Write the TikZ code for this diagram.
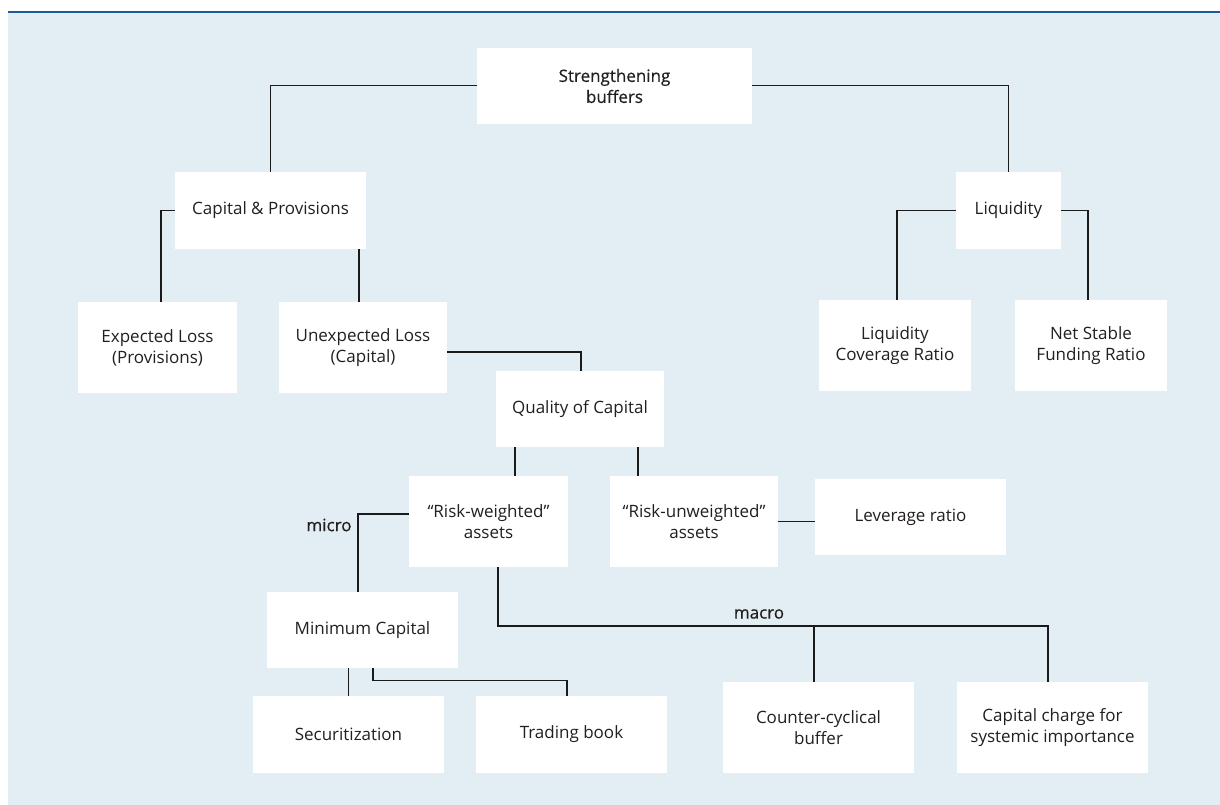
\documentclass[tikz,border=0pt]{standalone}
\usepackage{fontspec}
\setmainfont{Open Sans}
\newfontfamily\medfont[FakeBold=0.5]{Open Sans}
\usetikzlibrary{calc}
\definecolor{bgc}{HTML}{E2EDF4}
\definecolor{topc}{HTML}{1F5A98}
\definecolor{txt}{HTML}{231F20}
\definecolor{lnc}{HTML}{1A1A1A}
\begin{document}
\begin{tikzpicture}[x=1pt,y=-1pt,
  box/.style={fill=white, draw=none, align=center, inner sep=0pt, text=txt,
    font=\fontsize{17}{21}\selectfont},
  conn/.style={draw=lnc, line width=1.25pt},
  lbl/.style={text=txt, inner sep=0pt, font=\fontsize{17}{21}\selectfont\medfont}]
\useasboundingbox (0,0) rectangle (1220,805);
\fill[bgc] (8,13) rectangle (1220,805);
\fill[topc] (8,11) rectangle (1220,13.5);

% nodes
\node[box, minimum width=275pt, minimum height=76pt] (sb) at (614.5,86) {\medfont Strengthening\\\medfont buffers};
\node[box, minimum width=191pt, minimum height=77pt] (cp) at (270.5,210.5) {Capital \& Provisions};
\node[box, minimum width=105pt, minimum height=77pt] (liq) at (1008.5,210.5) {Liquidity};
\node[box, minimum width=159pt, minimum height=91pt] (el) at (157.5,347.5) {Expected Loss\\(Provisions)};
\node[box, minimum width=168pt, minimum height=91pt] (ul) at (363,347.5) {Unexpected Loss\\(Capital)};
\node[box, minimum width=152pt, minimum height=91pt] (lcr) at (895,345.5) {Liquidity\\Coverage Ratio};
\node[box, minimum width=152pt, minimum height=91pt] (nsfr) at (1091,345.5) {Net Stable\\Funding Ratio};
\node[box, minimum width=168pt, minimum height=76pt] (qc) at (580,409) {Quality of Capital};
\node[box, minimum width=159pt, minimum height=91pt] (rw) at (488.5,521.5) {``Risk-weighted''\\assets};
\node[box, minimum width=168pt, minimum height=91pt] (ru) at (694,521.5) {``Risk-unweighted''\\assets};
\node[box, minimum width=191pt, minimum height=76pt] (lev) at (910.5,517) {Leverage ratio};
\node[box, minimum width=191pt, minimum height=76pt] (mc) at (362.5,630) {Minimum Capital};
\node[box, minimum width=191pt, minimum height=77pt] (sec) at (348.5,734.5) {Securitization};
\node[box, minimum width=191pt, minimum height=77pt] (tb) at (571.5,734.5) {Trading book};
\node[box, minimum width=191pt, minimum height=91pt] (ccb) at (818.5,727.5) {Counter-cyclical\\buffer};
\node[box, minimum width=191pt, minimum height=91pt] (ccs) at (1052.5,727.5) {Capital charge for\\systemic importance};

\node[lbl] (micro) at (329,525) {micro};
\node[lbl] (macro) at (759,614) {macro};
\coordinate (macroY) at (0,626);

% connectors
\draw[conn] ([yshift=0.5pt]sb.west) -| (cp.north);
\draw[conn] ([yshift=0.5pt]sb.east) -| (liq.north);
\draw[conn] (cp.west) -| ([xshift=3.5pt]el.north);
\draw[conn] ([xshift=-4pt]ul.north) -- ([xshift=-4pt]ul.north |- cp.south);
\draw[conn] ([yshift=-4.5pt]ul.east) -| ([xshift=1pt]qc.north);
\draw[conn] (liq.west) -| ([xshift=2pt]lcr.north);
\draw[conn] (liq.east) -| ([xshift=-3pt]nsfr.north);
\draw[conn] ([xshift=-65pt]qc.south) -- ([xshift=-65pt]qc.south |- rw.north);
\draw[conn] ([xshift=58pt]qc.south) -- ([xshift=58pt]qc.south |- ru.north);
\draw[conn] (ru.east) -- (lev.west |- ru.east);
\draw[conn] ([yshift=7.5pt]rw.west) -| ([xshift=-4.5pt]mc.north);
\draw[conn] ([xshift=9.5pt]rw.south) |- ([xshift=-4.5pt]ccs.north |- macroY) -- ([xshift=-4.5pt]ccs.north);
\draw[conn] ([xshift=-4.5pt]ccb.north) -- ([xshift=-4.5pt]ccb.north |- macroY);
\draw[conn] (sec.north |- mc.south) -- (sec.north);
\draw[conn] ([xshift=10.5pt]mc.south) -- ++(0,12) -| ([xshift=-4.5pt]tb.north);
\end{tikzpicture}
\end{document}
